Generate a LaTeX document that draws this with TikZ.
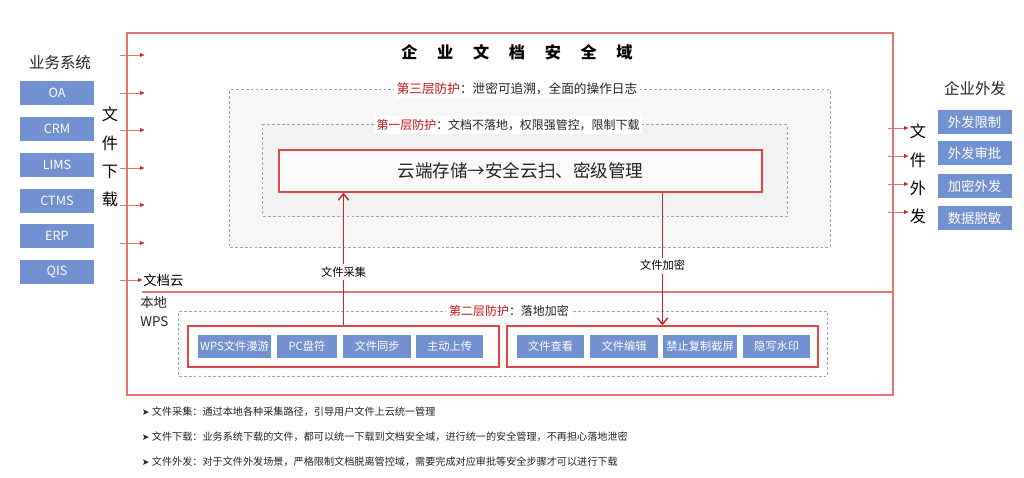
\documentclass[tikz,border=0pt]{standalone}
\usepackage{fontspec}
\setmainfont{Noto Sans CJK SC}
\newfontfamily\arrfont{DejaVu Sans}
\usetikzlibrary{arrows.meta,positioning,calc}
\definecolor{sysblue}{RGB}{114,145,208}
\definecolor{dashblue}{RGB}{143,163,204}
\definecolor{boxred}{RGB}{225,70,70}
\definecolor{borderred}{RGB}{230,115,115}
\definecolor{arrred}{RGB}{210,35,35}
\definecolor{labred}{RGB}{200,20,20}
\definecolor{txtgray}{RGB}{35,35,35}
\newcommand{\fsz}[1]{\fontsize{#1}{#1}\selectfont}

\begin{document}
\begin{tikzpicture}[x=0.025cm,y=-0.025cm,text=txtgray,
  sys/.style={fill=sysblue,text=white,minimum width=1.85cm,minimum height=0.58cm,inner sep=0pt,font=\fsz{9}},
  item/.style={fill=sysblue,text=white,minimum width=1.68cm,minimum height=0.58cm,inner sep=1pt,font=\fsz{8}},
  layer/.style={draw=dashblue,line width=0.7pt,dash pattern=on 2pt off 1.5pt},
  grp/.style={draw=boxred,line width=0.9pt,fill=white},
  lab/.style={fill=white,font=\fsz{8.5},inner sep=2pt},
  vert/.style={font=\fontsize{11.5}{20}\selectfont,align=center,text=black},
  tiny/.style={draw=borderred,line width=0.6pt,-{Latex[length=1.2mm,width=1mm,color=arrred]}},
  flow/.style={draw=arrred,line width=1pt,-{Straight Barb[length=1.6mm,width=2.6mm]}}]
  \useasboundingbox (0,0) rectangle (1024,478);
  % main domain
  \draw[borderred,line width=0.9pt] (127,33) rectangle (893,395);
  \node[font=\fsz{11.5}\bfseries,text=black] (title) at (517,52)
    {企\hspace{14pt}业\hspace{14pt}文\hspace{14pt}档\hspace{14pt}安\hspace{14pt}全\hspace{14pt}域};
  % third / first layers
  \node[layer,fill=black!3,minimum width=15cm,minimum height=3.925cm] (lay3) at (530,168.5) {};
  \node[layer,fill=black!5,minimum width=13.1cm,minimum height=2.275cm] (lay1) at (525,170.5) {};
  \node[lab,font=\fsz{9}] (lab3) at (517,89) {\textcolor{labred}{第三层防护}：泄密可追溯，全面的操作日志};
  \node[lab] (lab1) at (508,125) {\textcolor{labred}{第一层防护}：文档不落地，权限强管控，限制下载};
  \node[grp,fill=black!2,minimum width=12.075cm,minimum height=1.05cm,font=\fsz{12.5}] (cloud) at (520.5,171)
    {云端存储→安全云扫、密级管理};
  % business systems
  \node[font=\fsz{11}] (bizlab) at (60,63) {业务系统};
  \foreach \t/\y [count=\i] in {OA/93,CRM/129,LIMS/165,CTMS/201,ERP/236,QIS/272}
    \node[sys] (sys\i) at (57,\y) {\t};
  \node[vert] (down) at (110,157) {文\\件\\下\\载};
  \node[font=\fsz{9.5},anchor=west,inner sep=0pt,text=black] (dcloud) at (143,280) {文档云};
  \foreach \y [count=\i] in {55,93,130,168,205,243} {
    \coordinate (in\i) at (120,\y);
    \draw[tiny] (in\i) -- ++(25,0);
  }
  \coordinate (in7) at (120,280);
  \draw[tiny] (in7) -- (dcloud.west);
  % divider cloud / local
  \coordinate (divL) at (142,292);
  \coordinate (divR) at (892,292);
  \draw[borderred,line width=0.9pt] (divL) -- (divR);
  \node[font=\fontsize{9.5}{13.5}\selectfont,align=left,anchor=north west,inner sep=0pt] (local) at (140,296)
    {本地\\WPS};
  % second layer
  \node[layer,fill=black!1,minimum width=16.2cm,minimum height=1.625cm] (lay2) at (503,343.5) {};
  \node[lab] (lab2) at (509,311) {\textcolor{labred}{第二层防护}：落地加密};
  \node[grp,minimum width=7.775cm,minimum height=1.025cm] (grpL) at (343.5,346.5) {};
  \node[grp,minimum width=7.775cm,minimum height=1.025cm] (grpR) at (662.5,346.5) {};
  \node[item,minimum width=1.83cm] (c1) at (234.5,346.5) {WPS文件漫游};
  \node[item,minimum width=1.5cm] (c2) at (307,346.5) {PC盘符};
  \node[item] (c3) at (377,346.5) {文件同步};
  \node[item] (c4) at (449.5,346.5) {主动上传};
  \node[item] (e1) at (550.5,346.5) {文件查看};
  \node[item] (e2) at (624,346.5) {文件编辑};
  \node[item,minimum width=1.85cm] (e3) at (700,346.5) {禁止复制截屏};
  \node[item] (e4) at (776.5,346.5) {隐写水印};
  % collect / encrypt
  \draw[flow] (grpL.north) -- node[pos=0.4,fill=white,font=\fsz{8},text=black,inner sep=2pt] {文件采集}
    (grpL.north |- cloud.south);
  \draw[flow] (grpR.north |- cloud.south) -- node[pos=0.55,fill=white,font=\fsz{8},text=black,inner sep=2pt] {文件加密}
    (grpR.north);
  % outgoing
  \node[font=\fsz{11}] (outlab) at (975,89) {企业外发};
  \foreach \t/\y [count=\i] in {外发限制/122,外发审批/153,加密外发/186,数据脱敏/218}
    \node[sys,font=\fsz{9.5}] (out\i) at (974.5,\y) {\t};
  \node[vert] (send) at (918,174) {文\\件\\外\\发};
  \foreach \y [count=\i] in {128,156,184,212} {
    \coordinate (ex\i) at (888,\y);
    \draw[tiny] (ex\i) -- ++(21,0);
  }
  % notes
  \node[anchor=west,font=\fsz{7.2}] (n1) at (137,412) {{\arrfont\fsz{6.5}➤} 文件采集：通过本地各种采集路径，引导用户文件上云统一管理};
  \node[anchor=west,font=\fsz{7.2}] (n2) at (137,437) {{\arrfont\fsz{6.5}➤} 文件下载：业务系统下载的文件，都可以统一下载到文档安全域，进行统一的安全管理，不再担心落地泄密};
  \node[anchor=west,font=\fsz{7.2}] (n3) at (137,462) {{\arrfont\fsz{6.5}➤} 文件外发：对于文件外发场景，严格限制文档脱离管控域，需要完成对应审批等安全步骤才可以进行下载};
\end{tikzpicture}
\end{document}
